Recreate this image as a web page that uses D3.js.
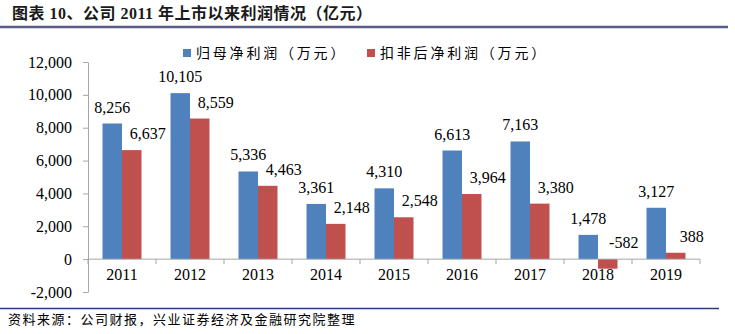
<!DOCTYPE html>
<html>
<head>
<meta charset="utf-8">
<script src="https://cdn.jsdelivr.net/npm/d3@7"></script>
<style>
  html, body { margin: 0; padding: 0; background: #fff; }
  svg { display: block; }
</style>
</head>
<body>
<svg id="chart" width="735" height="334"></svg>
<script>
const years = ["2011","2012","2013","2014","2015","2016","2017","2018","2019"];
const parentProfit = [8256, 10105, 5336, 3361, 4310, 6613, 7163, 1478, 3127];
const deductedProfit = [6637, 8559, 4463, 2148, 2548, 3964, 3380, -582, 388];
const seriesNames = ["归母净利润（万元）", "扣非后净利润（万元）"];
const yTicks = [-2000, 0, 2000, 4000, 6000, 8000, 10000, 12000];
const titleText = "图表 10、公司 2011 年上市以来利润情况（亿元）";
const sourceText = "资料来源：公司财报，兴业证券经济及金融研究院整理";

const colors = ["#4f81bd", "#c0504d"];
const numFont = "'Liberation Serif', 'Times New Roman', serif";
const cjkFont = "'Noto Sans CJK SC', sans-serif";

const svg = d3.select("#chart");
const fmtBase = d3.format(",");
const fmt = d => fmtBase(d).replace("\u2212", "-");

// Title
svg.append("text")
  .attr("x", 12).attr("y", 19)
  .attr("font-family", "'Liberation Serif', 'Noto Sans CJK SC', serif")
  .attr("font-weight", "bold")
  .attr("font-size", 16)
  .attr("letter-spacing", 0.5)
  .attr("fill", "#1a1a1a")
  .text(titleText);

svg.append("line")
  .attr("x1", 0).attr("x2", 728).attr("y1", 27).attr("y2", 27)
  .attr("stroke", "#5b5b87").attr("stroke-width", 2.5);

// Scales
const x0 = d3.scaleBand().domain(years).range([88, 700]).padding(0);
const x1 = d3.scaleBand().domain([0, 1]).range([0, x0.bandwidth()]).paddingInner(0).paddingOuter(0.744);
const y = d3.scaleLinear().domain([-2000, 12000]).range([292, 62]);
const y0 = y(0);

// Y axis
const yAxis = d3.axisLeft(y).tickValues(yTicks).tickFormat(fmt).tickSize(5).tickSizeOuter(0);
const gy = svg.append("g").attr("transform", "translate(88,0)").call(yAxis);
gy.select(".domain").attr("stroke", "#a6a6a6");
gy.selectAll(".tick line").attr("stroke", "#a6a6a6");
gy.selectAll(".tick text")
  .attr("font-family", numFont).attr("font-size", 16).attr("fill", "#000")
  .attr("x", -16);

// Bars
const series = [parentProfit, deductedProfit];
series.forEach((vals, si) => {
  svg.append("g").selectAll("rect").data(vals).join("rect")
    .attr("x", (d, i) => x0(years[i]) + x1(si))
    .attr("width", x1.bandwidth())
    .attr("y", d => y(Math.max(d, 0)))
    .attr("height", d => Math.abs(y(d) - y0))
    .attr("fill", colors[si]);
});

// X axis line at zero
const gx = svg.append("g").attr("transform", `translate(0,${y0})`);
gx.append("line").attr("x1", 88).attr("x2", 700).attr("y1", 0).attr("y2", 0)
  .attr("stroke", "#a6a6a6");
const boundaries = years.map(d => x0(d)).concat([x0(years[years.length - 1]) + x0.bandwidth()]);
gx.selectAll("line.tk").data(boundaries).join("line").attr("class", "tk")
  .attr("x1", d => d).attr("x2", d => d).attr("y1", 0).attr("y2", 5)
  .attr("stroke", "#a6a6a6");
gx.selectAll("text").data(years).join("text")
  .attr("x", d => x0(d) + x0.bandwidth() / 2)
  .attr("y", 21)
  .attr("text-anchor", "middle")
  .attr("font-family", numFont).attr("font-size", 16).attr("fill", "#000")
  .text(d => d);

// Data labels
series.forEach((vals, si) => {
  svg.append("g").selectAll("text").data(vals).join("text")
    .attr("x", (d, i) => x0(years[i]) + x1(si) + x1.bandwidth() / 2 + (si === 1 ? 16 : 0))
    .attr("y", d => y(Math.max(d, 0)) - 11)
    .attr("text-anchor", "middle")
    .attr("font-family", numFont).attr("font-size", 16).attr("fill", "#000")
    .text(d => fmt(d));
});

// Legend
const legendX = [183, 367];
seriesNames.forEach((name, i) => {
  svg.append("rect").attr("x", legendX[i]).attr("y", 49).attr("width", 8).attr("height", 8)
    .attr("fill", colors[i]);
  svg.append("text").attr("x", legendX[i] + 13).attr("y", 58)
    .attr("font-family", cjkFont).attr("font-size", 14).attr("letter-spacing", 2.8)
    .attr("fill", "#000")
    .text(name);
});

// Bottom rule and source
svg.append("line")
  .attr("x1", 0).attr("x2", 719).attr("y1", 308.5).attr("y2", 308.5)
  .attr("stroke", "#2f3a7a").attr("stroke-width", 1.5);
svg.append("text").attr("x", 8).attr("y", 324)
  .attr("font-family", cjkFont).attr("font-size", 13).attr("letter-spacing", 1.5)
  .attr("fill", "#000")
  .text(sourceText);
</script>
</body>
</html>
